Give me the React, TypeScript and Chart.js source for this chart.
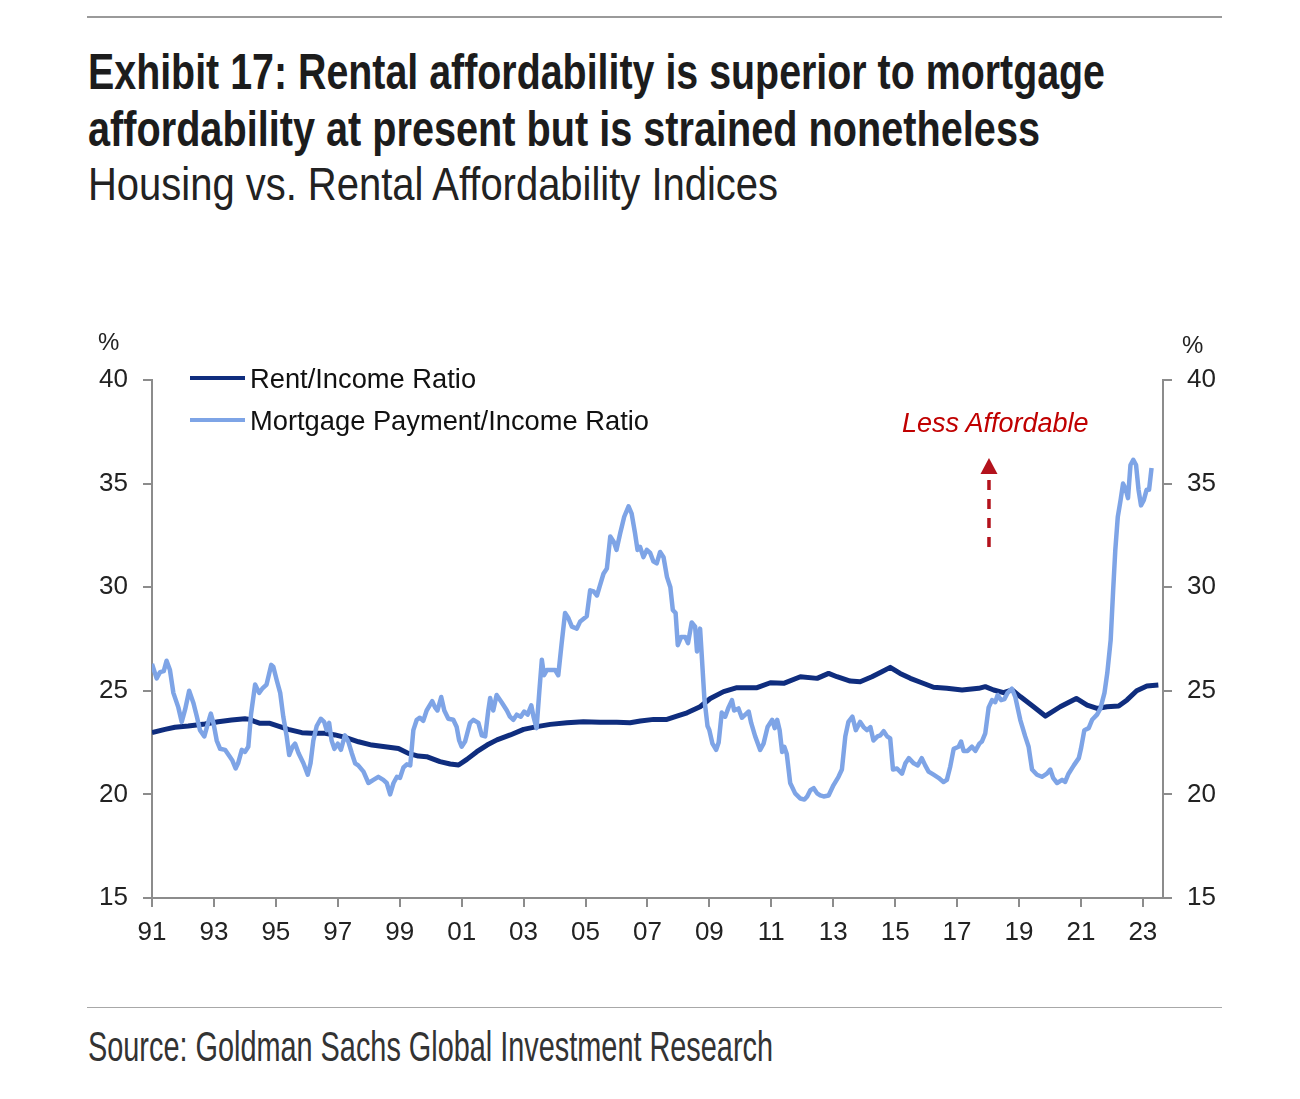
import React, { useEffect, useLayoutEffect, useRef } from "react";
import { Chart, registerables } from "chart.js";

Chart.register(...registerables);

// ---------- DATA ----------
const mortgageYears = [
  1991.0, 1991.15, 1991.26, 1991.38, 1991.47, 1991.58, 1991.69, 1991.85, 1991.96, 1992.07,
  1992.2, 1992.34, 1992.45, 1992.55, 1992.69, 1992.82, 1992.9, 1992.99, 1993.09, 1993.2,
  1993.36, 1993.52, 1993.59, 1993.7, 1993.78, 1993.9, 1994.0, 1994.11, 1994.2, 1994.33,
  1994.46, 1994.56, 1994.7, 1994.85, 1994.92, 1995.03, 1995.14, 1995.24, 1995.35, 1995.43,
  1995.54, 1995.62, 1995.73, 1995.89, 1996.03, 1996.12, 1996.21, 1996.32, 1996.45, 1996.56,
  1996.64, 1996.72, 1996.8, 1996.89, 1997.0, 1997.1, 1997.23, 1997.34, 1997.45, 1997.56,
  1997.66, 1997.83, 1997.99, 1998.15, 1998.31, 1998.47, 1998.58, 1998.69, 1998.8, 1998.91,
  1999.01, 1999.12, 1999.23, 1999.34, 1999.44, 1999.55, 1999.65, 1999.76, 1999.87, 2000.05,
  2000.14, 2000.22, 2000.34, 2000.44, 2000.57, 2000.73, 2000.84, 2000.92, 2001.0, 2001.11,
  2001.27, 2001.38, 2001.54, 2001.65, 2001.76, 2001.86, 2001.92, 2002.02, 2002.13, 2002.29,
  2002.46, 2002.56, 2002.67, 2002.78, 2002.91, 2003.02, 2003.13, 2003.25, 2003.32, 2003.42,
  2003.51, 2003.59, 2003.66, 2003.75, 2003.91, 2004.02, 2004.12, 2004.23, 2004.34, 2004.45,
  2004.56, 2004.72, 2004.83, 2005.04, 2005.15, 2005.26, 2005.37, 2005.47, 2005.58, 2005.69,
  2005.8, 2005.91, 2006.0, 2006.12, 2006.25, 2006.39, 2006.49, 2006.6, 2006.68, 2006.76,
  2006.87, 2006.98, 2007.09, 2007.19, 2007.3, 2007.41, 2007.52, 2007.63, 2007.74, 2007.82,
  2007.91, 2007.98, 2008.09, 2008.22, 2008.31, 2008.43, 2008.54, 2008.6, 2008.7, 2008.75,
  2008.84, 2008.94, 2009.0, 2009.1, 2009.22, 2009.3, 2009.4, 2009.51, 2009.62, 2009.73,
  2009.8, 2009.94, 2010.05, 2010.16, 2010.27, 2010.35, 2010.48, 2010.64, 2010.75, 2010.88,
  2011.03, 2011.11, 2011.19, 2011.27, 2011.35, 2011.42, 2011.5, 2011.61, 2011.77, 2011.94,
  2012.07, 2012.16, 2012.26, 2012.37, 2012.48, 2012.58, 2012.69, 2012.85, 2013.01, 2013.17,
  2013.28, 2013.39, 2013.49, 2013.62, 2013.73, 2013.87, 2013.98, 2014.09, 2014.2, 2014.3,
  2014.43, 2014.52, 2014.63, 2014.74, 2014.84, 2014.93, 2015.06, 2015.22, 2015.33, 2015.44,
  2015.6, 2015.73, 2015.86, 2015.97, 2016.08, 2016.24, 2016.4, 2016.56, 2016.67, 2016.78,
  2016.89, 2017.05, 2017.13, 2017.21, 2017.34, 2017.48, 2017.59, 2017.72, 2017.8, 2017.91,
  2018.02, 2018.13, 2018.23, 2018.31, 2018.42, 2018.53, 2018.63, 2018.77, 2018.88, 2019.04,
  2019.2, 2019.31, 2019.42, 2019.58, 2019.74, 2019.9, 2020.01, 2020.1, 2020.23, 2020.39,
  2020.49, 2020.6, 2020.77, 2020.93, 2021.0, 2021.11, 2021.25, 2021.36, 2021.52, 2021.63,
  2021.76, 2021.85, 2021.96, 2022.04, 2022.11, 2022.19, 2022.28, 2022.36, 2022.44, 2022.52,
  2022.6, 2022.69, 2022.78, 2022.86, 2022.94, 2023.03, 2023.12, 2023.2, 2023.25, 2023.28,
];
const mortgageValues = [
  26.3, 25.6, 25.9, 25.95, 26.45, 26.0, 24.9, 24.2, 23.5, 24.1,
  25.0, 24.4, 23.75, 23.1, 22.8, 23.5, 23.9, 23.4, 22.6, 22.2,
  22.15, 21.8, 21.65, 21.25, 21.5, 22.15, 22.05, 22.3, 23.9, 25.3,
  24.9, 25.1, 25.3, 26.25, 26.15, 25.5, 24.9, 23.75, 22.8, 21.9,
  22.3, 22.45, 22.0, 21.5, 20.95, 21.5, 22.6, 23.3, 23.65, 23.5,
  23.1, 23.45, 22.6, 22.2, 22.45, 22.15, 22.85, 22.55, 22.0, 21.5,
  21.4, 21.1, 20.55, 20.7, 20.85, 20.7, 20.55, 20.0, 20.55, 20.85,
  20.8, 21.3, 21.45, 21.4, 23.1, 23.6, 23.7, 23.55, 24.05, 24.5,
  24.2, 24.05, 24.7, 24.05, 23.65, 23.6, 23.25, 22.6, 22.3, 22.55,
  23.45, 23.6, 23.45, 22.85, 22.8, 24.05, 24.65, 24.05, 24.8, 24.45,
  24.05, 23.75, 23.6, 23.85, 23.75, 24.0, 23.85, 24.3, 23.75, 23.2,
  25.0, 26.5, 25.75, 26.0, 26.0, 26.0, 25.75, 27.3, 28.75, 28.5,
  28.1, 28.0, 28.35, 28.6, 29.85, 29.8, 29.6, 30.1, 30.65, 30.9,
  32.45, 32.2, 31.8, 32.6, 33.4, 33.9, 33.55, 32.6, 31.8, 31.95,
  31.45, 31.8, 31.65, 31.25, 31.15, 31.7, 31.45, 30.5, 30.0, 28.9,
  28.75, 27.2, 27.6, 27.6, 27.3, 28.3, 28.1, 26.9, 28.0, 26.8,
  24.6, 23.3, 23.1, 22.45, 22.15, 22.5, 23.95, 23.75, 24.2, 24.55,
  24.05, 24.15, 23.7, 23.85, 24.0, 23.45, 22.8, 22.15, 22.45, 23.25,
  23.6, 23.2, 23.6, 23.1, 22.05, 22.3, 21.95, 20.55, 20.05, 19.8,
  19.75, 19.9, 20.2, 20.3, 20.05, 19.95, 19.9, 19.95, 20.45, 20.85,
  21.2, 22.8, 23.5, 23.75, 23.1, 23.5, 23.25, 23.1, 23.25, 22.6,
  22.8, 22.85, 23.05, 22.8, 22.7, 21.2, 21.25, 21.0, 21.5, 21.75,
  21.5, 21.4, 21.75, 21.4, 21.1, 20.95, 20.8, 20.6, 20.7, 21.35,
  22.2, 22.3, 22.55, 22.1, 22.1, 22.3, 22.1, 22.45, 22.55, 22.95,
  24.2, 24.55, 24.45, 24.8, 24.55, 24.6, 24.9, 25.1, 24.7, 23.6,
  22.8, 22.3, 21.2, 20.95, 20.85, 21.0, 21.2, 20.8, 20.55, 20.7,
  20.6, 21.0, 21.4, 21.75, 22.2, 23.1, 23.2, 23.6, 23.85, 24.15,
  24.9, 25.85, 27.45, 29.85, 31.8, 33.4, 34.2, 35.0, 34.75, 34.3,
  35.9, 36.15, 35.9, 34.7, 33.95, 34.2, 34.7, 34.7, 35.35, 35.75,
];

const rentYears = [
  1991.0, 1991.42, 1991.74, 1992.17, 1992.71, 1993.14, 1993.57, 1994.0, 1994.16, 1994.33,
  1994.49, 1994.81, 1995.08, 1995.4, 1995.84, 1996.16, 1996.59, 1996.91, 1997.24, 1997.67,
  1998.1, 1998.53, 1998.96, 1999.28, 1999.6, 1999.87, 2000.3, 2000.63, 2000.9, 2001.17,
  2001.49, 2001.82, 2002.14, 2002.57, 2003.0, 2003.43, 2003.86, 2004.4, 2004.93, 2005.47,
  2006.01, 2006.44, 2006.77, 2007.2, 2007.63, 2007.95, 2008.28, 2008.7, 2009.03, 2009.46,
  2009.89, 2010.54, 2010.97, 2011.4, 2011.94, 2012.48, 2012.85, 2013.12, 2013.55, 2013.87,
  2014.25, 2014.57, 2014.84, 2015.16, 2015.49, 2015.86, 2016.24, 2016.67, 2017.16, 2017.7,
  2017.91, 2018.18, 2018.5, 2018.78, 2019.04, 2019.47, 2019.85, 2020.33, 2020.85, 2021.2,
  2021.52, 2021.84, 2022.22, 2022.49, 2022.8, 2023.13, 2023.5,
];
const rentValues = [
  22.98, 23.14, 23.24, 23.3, 23.4, 23.51, 23.59, 23.65, 23.62, 23.51,
  23.43, 23.43, 23.3, 23.14, 22.98, 22.95, 22.95, 22.87, 22.75, 22.54,
  22.38, 22.3, 22.22, 21.98, 21.85, 21.82, 21.58, 21.47, 21.42, 21.69,
  22.06, 22.38, 22.63, 22.87, 23.14, 23.27, 23.38, 23.46, 23.51, 23.48,
  23.48, 23.46, 23.54, 23.62, 23.62, 23.78, 23.94, 24.23, 24.63, 24.96,
  25.15, 25.15, 25.39, 25.36, 25.68, 25.6, 25.84, 25.68, 25.47, 25.44,
  25.68, 25.92, 26.13, 25.84, 25.6, 25.39, 25.17, 25.12, 25.04, 25.12,
  25.2, 25.04, 24.91, 25.04, 24.72, 24.23, 23.78, 24.23, 24.63, 24.31,
  24.15, 24.23, 24.27, 24.56, 25.0, 25.23, 25.28,
];

const xTickYears = [1991, 1993, 1995, 1997, 1999, 2001, 2003, 2005, 2007, 2009, 2011, 2013, 2015, 2017, 2019, 2021, 2023];
const yTicks = [15, 20, 25, 30, 35, 40];
const xMin = 1991;
const xMax = 2023.65;

const arrowYear = 2018.03;
const arrowBaseValue = 31.94;
const arrowTipValue = 36.24;

const titleLine1 = "Exhibit 17: Rental affordability is superior to mortgage";
const titleLine2 = "affordability at present but is strained nonetheless";
const subtitle = "Housing vs. Rental Affordability Indices";
const sourceText = "Source: Goldman Sachs Global Investment Research";
const rentLabel = "Rent/Income Ratio";
const mortgageLabel = "Mortgage Payment/Income Ratio";
const annotationText = "Less Affordable";

// ---------- STYLE ----------
const NAVY = "#0f2d7e";
const LIGHT = "#7ea4e6";
const RED = "#c00000";
const ARROW_RED = "#b3121c";
const AXIS = "#8c8c8c";
const ARIAL = "'Liberation Sans', Arial, Helvetica, sans-serif";
const NARROW = "'Liberation Sans Narrow', 'Arial Narrow', 'Liberation Sans', sans-serif";

function FitText(props: {
  text: string; left: number; top: number; width: number; size: number;
  weight?: number | string; color?: string;
}) {
  const ref = useRef<HTMLSpanElement>(null);
  useLayoutEffect(() => {
    const el = ref.current;
    if (!el) return;
    el.style.transform = "none";
    const w = el.getBoundingClientRect().width;
    if (w > 0) el.style.transform = `scaleX(${props.width / w})`;
  }, [props.text, props.width]);
  return (
    <span
      ref={ref}
      style={{
        position: "absolute", left: props.left, top: props.top,
        fontFamily: NARROW, fontSize: props.size, lineHeight: `${props.size}px`,
        fontWeight: props.weight ?? 400, color: props.color ?? "#1c1c1c",
        whiteSpace: "nowrap", transformOrigin: "0 0",
      }}
    >
      {props.text}
    </span>
  );
}

const arrowPlugin = {
  id: "lessAffordableArrow",
  afterDatasetsDraw(chart: any) {
    const { ctx, scales } = chart;
    const px = scales.x.getPixelForValue(arrowYear);
    const yb = scales.y.getPixelForValue(arrowBaseValue);
    const yt = scales.y.getPixelForValue(arrowTipValue);
    const triH = 16;
    ctx.save();
    ctx.strokeStyle = ARROW_RED;
    ctx.lineWidth = 3.5;
    ctx.setLineDash([10, 9]);
    ctx.beginPath();
    ctx.moveTo(px, yb);
    ctx.lineTo(px, yt + triH + 2);
    ctx.stroke();
    ctx.setLineDash([]);
    ctx.fillStyle = ARROW_RED;
    ctx.beginPath();
    ctx.moveTo(px, yt);
    ctx.lineTo(px - 8.5, yt + triH);
    ctx.lineTo(px + 8.5, yt + triH);
    ctx.closePath();
    ctx.fill();
    ctx.restore();
  },
};

export default function App() {
  const canvasRef = useRef<HTMLCanvasElement>(null);

  useEffect(() => {
    if (!canvasRef.current) return;
    const tickFont = { family: ARIAL, size: 26 };
    const chart = new Chart(canvasRef.current, {
      type: "line",
      data: {
        datasets: [
          {
            label: mortgageLabel,
            data: mortgageYears.map((x, i) => ({ x, y: mortgageValues[i] })),
            borderColor: LIGHT,
            borderWidth: 4.5,
            pointRadius: 0,
            tension: 0,
            borderJoinStyle: "round",
            order: 0,
          },
          {
            label: rentLabel,
            data: rentYears.map((x, i) => ({ x, y: rentValues[i] })),
            borderColor: NAVY,
            borderWidth: 5,
            pointRadius: 0,
            tension: 0,
            borderJoinStyle: "round",
            order: 1,
          },
        ],
      },
      options: {
        responsive: false,
        animation: false,
        devicePixelRatio: 1,
        layout: { padding: { top: 50, bottom: 0, left: 0, right: 0 } },
        plugins: { legend: { display: false }, tooltip: { enabled: false }, title: { display: false } },
        scales: {
          x: {
            type: "linear",
            min: xMin,
            max: xMax,
            afterBuildTicks: (axis: any) => { axis.ticks = xTickYears.map((v) => ({ value: v })); },
            afterFit: (axis: any) => { axis.height = 60; },
            ticks: {
              font: tickFont, color: "#222", padding: 10, maxRotation: 0, autoSkip: false,
              callback: (v: any) => String(Math.round(Number(v)) % 100).padStart(2, "0"),
            },
            grid: { drawOnChartArea: false, drawTicks: true, tickLength: 9, color: AXIS, lineWidth: 2 },
            border: { display: true, color: AXIS, width: 2 },
          },
          y: {
            type: "linear",
            position: "left",
            min: 15,
            max: 40,
            afterBuildTicks: (axis: any) => { axis.ticks = yTicks.map((v) => ({ value: v })); },
            afterFit: (axis: any) => { axis.width = 152; },
            ticks: { font: tickFont, color: "#222", padding: 15 },
            grid: { drawOnChartArea: false, drawTicks: true, tickLength: 9, color: AXIS, lineWidth: 2 },
            border: { display: true, color: AXIS, width: 2 },
          },
          y2: {
            type: "linear",
            position: "right",
            display: true,
            min: 15,
            max: 40,
            afterBuildTicks: (axis: any) => { axis.ticks = yTicks.map((v) => ({ value: v })); },
            afterFit: (axis: any) => { axis.width = 137; },
            ticks: { font: tickFont, color: "#222", padding: 15 },
            grid: { drawOnChartArea: false, drawTicks: true, tickLength: 9, color: AXIS, lineWidth: 2 },
            border: { display: true, color: AXIS, width: 2 },
          },
        },
      },
      plugins: [arrowPlugin],
    } as any);
    return () => chart.destroy();
  }, []);

  const legendText = (top: number): React.CSSProperties => ({
    position: "absolute", left: 250, top, fontFamily: ARIAL, fontSize: 27.3,
    lineHeight: "27px", color: "#111", whiteSpace: "nowrap",
  });

  return (
    <div style={{ position: "absolute", left: 0, top: 0, width: 1300, height: 1099, background: "#fff", overflow: "hidden" }}>
      <div style={{ position: "absolute", left: 87, top: 16, width: 1135, height: 2, background: "#9a9a9a" }} />
      <FitText text={titleLine1} left={88} top={47} width={1017} size={50} weight={700} />
      <FitText text={titleLine2} left={88} top={104} width={952} size={50} weight={700} />
      <FitText text={subtitle} left={88} top={160} width={690} size={47} weight={400} color="#222" />

      <canvas ref={canvasRef} width={1300} height={628} style={{ position: "absolute", left: 0, top: 330 }} />

      <span style={{ position: "absolute", left: 98, top: 330, fontFamily: ARIAL, fontSize: 24, lineHeight: "24px", color: "#222" }}>%</span>
      <span style={{ position: "absolute", left: 1182, top: 333, fontFamily: ARIAL, fontSize: 24, lineHeight: "24px", color: "#222" }}>%</span>

      <div style={{ position: "absolute", left: 190, top: 376, width: 55, height: 4, background: NAVY }} />
      <span style={legendText(365)}>{rentLabel}</span>
      <div style={{ position: "absolute", left: 190, top: 418, width: 55, height: 4, background: LIGHT }} />
      <span style={legendText(407)}>{mortgageLabel}</span>

      <span style={{ position: "absolute", left: 902, top: 410, fontFamily: ARIAL, fontSize: 27, lineHeight: "27px", fontStyle: "italic", color: RED, whiteSpace: "nowrap" }}>
        {annotationText}
      </span>

      <div style={{ position: "absolute", left: 87, top: 1007, width: 1135, height: 1, background: "#a8a8a8" }} />
      <FitText text={sourceText} left={88} top={1026} width={685} size={42} weight={400} color="#333" />
    </div>
  );
}
